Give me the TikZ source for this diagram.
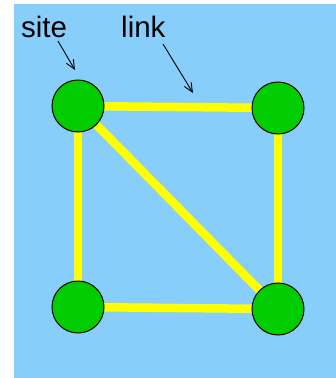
\documentclass[tikz,border=0pt]{standalone}
\usepackage{fontspec}
\setmainfont{Liberation Sans}
\usetikzlibrary{arrows.meta}
\definecolor{bgblue}{RGB}{135,206,250}
\definecolor{sitegreen}{RGB}{0,204,0}
\definecolor{linkyellow}{RGB}{255,255,0}
\begin{document}
\begin{tikzpicture}[x=1pt,y=-1pt,
  sitenode/.style={circle,draw=black,line width=1pt,fill=sitegreen,minimum size=52pt,inner sep=0pt},
  linkline/.style={draw=linkyellow,line width=8.5pt},
  lbl/.style={font=\fontsize{29.5}{30}\selectfont,inner sep=0pt,anchor=base west},
  pointer/.style={draw=black,line width=0.9pt,-{Straight Barb[length=9pt,width=8pt]}}]
\useasboundingbox (0,0) rectangle (336,378);
\fill[bgblue] (14,4) rectangle (336,378);
\coordinate (tlc) at (78,106);
\coordinate (trc) at (278,108);
\coordinate (blc) at (78,307);
\coordinate (brc) at (278,309);
\draw[linkline] (tlc) -- (trc);
\draw[linkline] (tlc) -- (blc);
\draw[linkline] (tlc) -- (brc);
\draw[linkline] (trc) -- (brc);
\draw[linkline] (blc) -- (brc);
\node[sitenode] (tl) at (tlc) {};
\node[sitenode] (tr) at (trc) {};
\node[sitenode] (bl) at (blc) {};
\node[sitenode] (br) at (brc) {};
\node[lbl] (site) at (21,37) {site};
\node[lbl] (link) at (121,37) {link};
\coordinate (sitefrom) at (58,41);
\coordinate (sitetip) at (75,70);
\coordinate (linkfrom) at (163,44);
\coordinate (linktip) at (193,93);
\draw[pointer] (sitefrom) -- (sitetip);
\draw[pointer] (linkfrom) -- (linktip);
\end{tikzpicture}
\end{document}
